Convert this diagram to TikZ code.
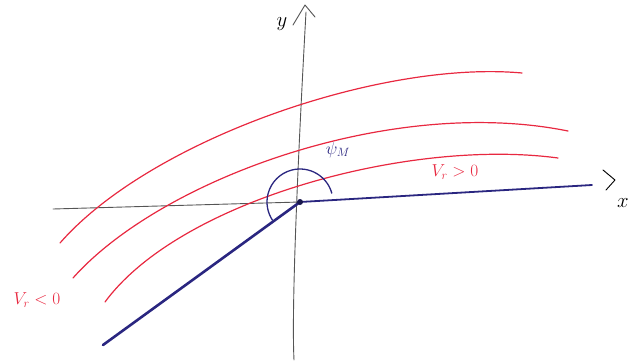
\documentclass[tikz,border=0pt]{standalone}
\usepackage{amsmath}
\usepackage{tikz}

\definecolor{penred}{RGB}{232,40,64}
\definecolor{penblue}{RGB}{42,38,128}
\definecolor{pengray}{RGB}{85,85,85}

\tikzset{
    axis/.style={pengray, line width=0.9pt, line cap=round, line join=round},
    field/.style={penred, line width=1.2pt, line cap=round},
    wall/.style={penblue, line width=2.6pt, line cap=round},
}

\begin{document}
\begin{tikzpicture}[x=1pt, y=-1pt]
    \useasboundingbox (0,0) rectangle (632,362);
    \coordinate (O) at (300,202);
    \coordinate (wallL) at (103,345);
    \coordinate (wallR) at (592,185);
    % axes
    \draw[axis] (53,209) -- (O);
    \draw[axis] (294,360) .. controls (291,300) and (300,120) .. (306,12);
    \draw[axis] (293,25) -- (305,5) -- (315,17);
    \draw[axis, black] (603,170) -- (615,180) -- (606,190);
    \node[font=\huge] (ylab) at (282,24) {$y$};
    \node[font=\huge] (xlab) at (623,203) {$x$};
    % field lines
    \draw[field] (60,243) .. controls (150,140) and (380,60) .. (522,73);
    \draw[field] (73,278) .. controls (160,180) and (390,95) .. (568,131);
    \draw[field] (105,302) .. controls (180,200) and (410,138) .. (558,158);
    % wall
    \draw[wall] (wallL) -- (O);
    \draw[wall, line width=1.8pt] (O) -- (wallR);
    \fill[penblue!60!black] (O) circle (3pt);
    \draw[penblue, line width=1.3pt] ([shift={(-15:33)}]O) arc[start angle=-15, end angle=-214, radius=33];
    % labels
    \node[penblue, font=\LARGE] (psi) at (338,150) {$\psi_M$};
    \node[penred, font=\LARGE] (vpos) at (455,172) {$V_r>0$};
    \node[penred, font=\LARGE] (vneg) at (37,300) {$V_r<0$};
\end{tikzpicture}
\end{document}
